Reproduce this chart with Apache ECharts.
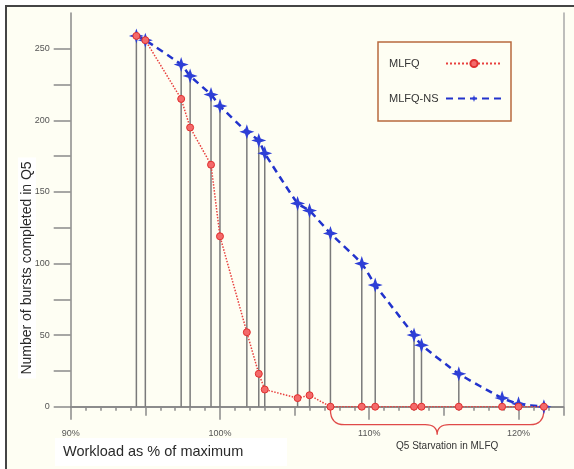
<!DOCTYPE html>
<html>
<head>
<meta charset="utf-8">
<script src="https://cdn.jsdelivr.net/npm/echarts@6/dist/echarts.min.js"></script>
<style>
  html, body { margin: 0; padding: 0; background: #fff; }
  #chart { width: 574px; height: 469px; }
</style>
</head>
<body>
<div id="chart"></div>
<script>
// 数据：工作负载(%) 与 Q5 完成的 burst 数
const workload = [94.4, 95, 97.4, 98, 99.4, 100, 101.8, 102.6, 103, 105.2, 106, 107.4, 109.5, 110.4, 113, 113.5, 116, 118.9, 120, 121.7];
const mlfq     = [259, 256, 215, 195, 169, 119, 52, 23, 12, 6, 8, 0, 0, 0, 0, 0, 0, 0, 0, 0];
const mlfqNs   = [259, 256, 239, 231, 218, 210, 192, 186, 177, 142, 137, 121, 100, 85, 50, 43, 23, 6, 2, 0];
const xTickLabels = [90, 100, 110, 120];
const yTickLabels = [0, 50, 100, 150, 200, 250];
// 饥饿区间（MLFQ 中 Q5 为 0 的范围）
const starvation = [107.4, 121.7];

const FONT = '"Liberation Sans", Arial, sans-serif';
const AXIS_COLOR = '#8a8a8a';
const starPath = 'path://M0,-10 L2.5,-2.5 L10,0 L2.5,2.5 L0,10 L-2.5,2.5 L-10,0 L-2.5,-2.5 Z';

let chart = echarts.init(document.getElementById('chart'), null, {renderer: 'canvas'});

// x 轴三层刻度：1%、5%、10%
function xAxisLayer(interval, len, showLabel) {
  return {
    type: 'value', position: 'bottom', min: 90, max: 123, interval: interval,
    axisLine: { show: true, lineStyle: { color: AXIS_COLOR, width: 1.5 } },
    axisTick: { show: true, inside: false, length: len, lineStyle: { color: AXIS_COLOR, width: 1.5 } },
    splitLine: { show: false },
    axisLabel: {
      show: showLabel, margin: 22, fontSize: 9, color: '#555', fontFamily: FONT,
      showMaxLabel: false,
      formatter: (v) => xTickLabels.indexOf(v) >= 0 ? v + '%' : ''
    }
  };
}

let stemData = workload.map((x, i) => [x, Math.max(mlfq[i], mlfqNs[i])]);

let option = {
  backgroundColor: '#fff',
  animation: false,
  textStyle: { fontFamily: FONT },
  grid: { left: 70.7, right: 10.7, top: 13, bottom: 62.3, containLabel: false },
  legend: {
    orient: 'vertical', left: 378, top: 42,
    align: 'right',
    itemWidth: 56, itemHeight: 9, itemGap: 24,
    borderColor: '#b8693e', borderWidth: 1.5,
    padding: [16, 8, 17, 11],
    backgroundColor: '#fefef3',
    formatter: (name) => '{t|' + name + '}',
    textStyle: {
      fontSize: 11, color: '#333', fontFamily: FONT,
      rich: { t: { width: 52, align: 'left', fontSize: 11, color: '#333', fontFamily: FONT } }
    },
    data: ['MLFQ', 'MLFQ-NS']
  },
  xAxis: [xAxisLayer(1, 4, false), xAxisLayer(5, 9, false), xAxisLayer(10, 13, true)],
  yAxis: [
    {
      type: 'value', min: 0, max: 275, interval: 25,
      axisLine: { show: true, lineStyle: { color: AXIS_COLOR, width: 1.5 } },
      axisTick: { show: true, length: 17, customValues: [0, 25, 50, 75, 100, 125, 150, 175, 200, 225, 250], lineStyle: { color: AXIS_COLOR, width: 1.5 } },
      splitLine: { show: false },
      axisLabel: {
        margin: 21, fontSize: 9, color: '#555', fontFamily: FONT,
        formatter: (v) => yTickLabels.indexOf(v) >= 0 ? String(v) : ''
      }
    },
    {
      type: 'value', position: 'right', min: 0, max: 275,
      axisLine: { show: true, lineStyle: { color: '#a8a8a8', width: 1.5 } },
      axisTick: { show: false }, axisLabel: { show: false }, splitLine: { show: false }
    }
  ],
  graphic: [
    // 背景与外框
    { type: 'rect', z: -100, silent: true, shape: { x: 6, y: 6, width: 600, height: 500 },
      style: { fill: '#fefef3', stroke: '#444', lineWidth: 2 } },
    // y 轴标题
    { type: 'text', z: -50, silent: true, x: 27, y: 268, rotation: Math.PI / 2,
      style: { text: 'Number of bursts completed in Q5', fontSize: 14, fill: '#2a2a2a',
               fontFamily: FONT, align: 'center', verticalAlign: 'middle',
               backgroundColor: '#fff', padding: [2, 4] } },
    // x 轴标题
    { type: 'rect', silent: true, shape: { x: 55, y: 438, width: 232, height: 28 },
      style: { fill: '#fff' } },
    { type: 'text', silent: true, x: 63, y: 452,
      style: { text: 'Workload as % of maximum', fontSize: 14.5, fill: '#2a2a2a',
               fontFamily: FONT, verticalAlign: 'middle' } }
  ],
  series: [
    {
      name: 'stems', type: 'custom', z: 1, silent: true,
      data: stemData,
      renderItem: (params, api) => {
        let p0 = api.coord([api.value(0), 0]);
        let p1 = api.coord([api.value(0), api.value(1)]);
        return { type: 'line', shape: { x1: p0[0], y1: p0[1], x2: p1[0], y2: p1[1] },
                 style: { stroke: '#7a7a7a', lineWidth: 1.5 } };
      }
    },
    {
      name: 'brace', type: 'custom', z: 1, silent: true,
      data: [[starvation[0], 0, starvation[1]]],
      encode: { x: [0, 2], y: 1 },
      renderItem: (params, api) => {
        let a = api.coord([api.value(0), 0]);
        let b = api.coord([api.value(2), 0]);
        let x1 = a[0], x2 = b[0], y0 = a[1];
        let xc = (x1 + x2) / 2;
        let yt = y0 + 3, yb = y0 + 18, tip = y0 + 28;
        let d = 'M' + x1 + ',' + yt +
                ' Q' + x1 + ',' + yb + ' ' + (x1 + 14) + ',' + yb +
                ' L' + (xc - 12) + ',' + yb +
                ' Q' + xc + ',' + yb + ' ' + xc + ',' + tip +
                ' Q' + xc + ',' + yb + ' ' + (xc + 12) + ',' + yb +
                ' L' + (x2 - 14) + ',' + yb +
                ' Q' + x2 + ',' + yb + ' ' + x2 + ',' + yt;
        return {
          type: 'group',
          children: [
            { type: 'path', shape: { pathData: d },
              style: { fill: 'none', stroke: '#e04a48', lineWidth: 1.3 } },
            { type: 'text', x: xc + 10, y: y0 + 40,
              style: { text: 'Q5 Starvation in MLFQ', fontSize: 10, fill: '#333',
                       fontFamily: FONT, align: 'center', verticalAlign: 'middle' } }
          ]
        };
      }
    },
    {
      name: 'MLFQ-NS', type: 'line', z: 3,
      data: workload.map((x, i) => [x, mlfqNs[i]]),
      smooth: 0.15,
      symbol: starPath, symbolSize: 15,
      itemStyle: { color: '#2e3fd6' },
      lineStyle: { color: '#2233cc', width: 2.5, type: [7, 5] }
    },
    {
      name: 'MLFQ', type: 'line', z: 4,
      data: workload.map((x, i) => [x, mlfq[i]]),
      symbol: 'circle', symbolSize: 7,
      itemStyle: { color: '#f46a6a', borderColor: '#e0302f', borderWidth: 1 },
      lineStyle: { color: '#e8403e', width: 1.5, type: 'dotted' }
    }
  ]
};

chart.setOption(option);
window.onresize = function () { chart.resize(); };
</script>
</body>
</html>
